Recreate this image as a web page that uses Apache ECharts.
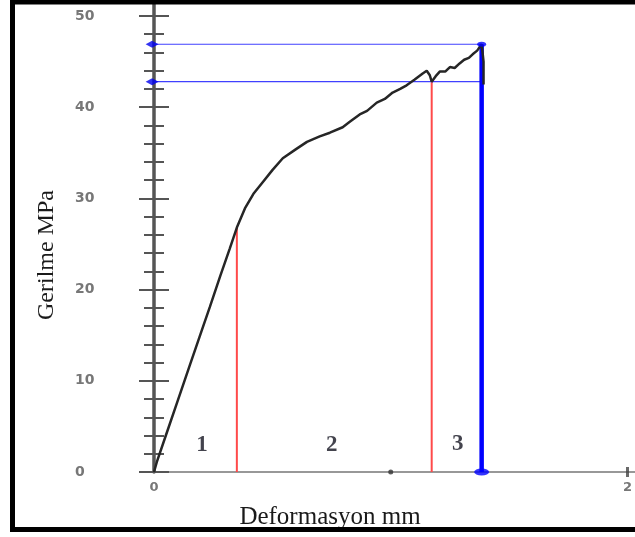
<!DOCTYPE html>
<html>
<head>
<meta charset="utf-8">
<script src="https://cdn.jsdelivr.net/npm/echarts@6/dist/echarts.min.js"></script>
<style>
html,body{margin:0;padding:0;background:#fff;}
#chart{width:635px;height:537px;}
</style>
</head>
<body>
<div id="chart"></div>
<script>
// ---- data ----
const strain = [0, 0.012, 0.05, 0.10, 0.15, 0.20, 0.236, 0.28, 0.32, 0.35, 0.384, 0.42, 0.46, 0.50, 0.544, 0.60, 0.646, 0.70, 0.743, 0.797, 0.827, 0.869, 0.90, 0.941, 0.975, 1.008, 1.04, 1.067, 1.10, 1.135, 1.152, 1.165, 1.173, 1.19, 1.207, 1.23, 1.25, 1.27, 1.291, 1.31, 1.33, 1.346, 1.365, 1.384, 1.392, 1.392];
const stress = [0, 1.1, 4.0, 7.8, 11.6, 15.4, 18.1, 21.5, 24.5, 26.8, 28.9, 30.5, 31.8, 33.1, 34.4, 35.4, 36.2, 36.8, 37.2, 37.8, 38.4, 39.2, 39.6, 40.5, 40.9, 41.6, 42.0, 42.4, 43.0, 43.7, 44.0, 43.5, 42.8, 43.4, 43.9, 43.9, 44.4, 44.3, 44.8, 45.2, 45.4, 45.8, 46.2, 46.9, 45.0, 42.5];
const redLineX = [0.35, 1.173];
const redLineTop = [26.8, 42.8];
const blueLevels = [46.9, 42.8];
const breakX = 1.384;
const breakStress = 46.9;
const regionNames = ['1', '2', '3'];
const regionX = [0.203, 0.751, 1.283];
const regionY = [2.96, 2.96, 3.1];
const xTickLabels = [0, 2];
const xAxisTitle = 'Deformasyon mm';
const yAxisTitle = 'Gerilme MPa';

// ---- build ----
const curve = strain.map((x, i) => [x, stress[i]]);
const series = [];
series.push({
  type: 'line', data: curve, symbol: 'none', z: 5,
  lineStyle: {color: '#262626', width: 2.5}
});
redLineX.forEach((x, i) => {
  series.push({
    type: 'line', data: [[x, 0], [x, redLineTop[i]]], symbol: 'none', z: 3,
    lineStyle: {color: '#ff4a4a', width: 2}
  });
});
blueLevels.forEach(v => {
  series.push({
    type: 'line', data: [[0, v], [breakX, v]], symbol: 'none', z: 3,
    lineStyle: {color: '#4040ff', width: 1.2}
  });
  series.push({
    type: 'scatter', data: [[-0.008, v]], symbol: 'diamond', symbolSize: [13, 7], clip: false, z: 6,
    itemStyle: {color: '#0000ee'}
  });
});
series.push({
  type: 'line', data: [[breakX, 0], [breakX, breakStress]], symbol: 'none', z: 4,
  lineStyle: {color: '#0000ff', width: 4.5}
});
series.push({
  type: 'scatter', data: [[breakX, 0]], symbol: 'circle', symbolSize: [15, 7], z: 6,
  itemStyle: {color: '#0000ff'}
});
series.push({
  type: 'scatter', data: [[breakX, breakStress]], symbol: 'circle', symbolSize: [9, 5], z: 6,
  itemStyle: {color: '#0000ff'}
});
series.push({
  type: 'scatter', data: [[1, 0]], symbol: 'circle', symbolSize: 5, z: 6,
  itemStyle: {color: '#333'}
});
series.push({
  type: 'scatter', data: [[2, 0]], symbol: 'rect', symbolSize: [3, 10], z: 6,
  itemStyle: {color: '#444'}
});
series.push({
  type: 'scatter', symbolSize: 0, z: 7,
  data: regionX.map((x, i) => ({value: [x, regionY[i]], name: regionNames[i]})),
  label: {
    show: true, position: 'inside', formatter: p => p.name,
    fontFamily: 'Liberation Serif', fontWeight: 'bold', fontSize: 23, color: '#141420'
  }
});

const yBase = {type: 'value', min: 0, max: 51.5, interval: 10, position: 'left', splitLine: {show: false}};
const option = {
  animation: false,
  backgroundColor: '#fff',
  grid: {left: 154, right: 0, top: 2.3, bottom: 65, containLabel: false},
  xAxis: {
    type: 'value', min: 0, max: 2.03, interval: 1,
    splitLine: {show: false},
    axisLine: {show: true, lineStyle: {color: '#777', width: 1.5}},
    axisTick: {show: false},
    axisLabel: {
      margin: 9, fontFamily: 'DejaVu Sans', fontSize: 13, fontWeight: 'bold', color: '#777', showMaxLabel: false,
      formatter: v => (xTickLabels.indexOf(v) >= 0 ? String(v) : '')
    }
  },
  yAxis: [
    Object.assign({}, yBase, {
      axisLine: {show: true, lineStyle: {color: '#555', width: 3.5}},
      axisTick: {show: false},
      axisLabel: {align: 'left', margin: 79, fontFamily: 'DejaVu Sans', fontSize: 14, fontWeight: 'bold', color: '#777', showMaxLabel: false}
    }),
    Object.assign({}, yBase, {
      offset: -15,
      axisLine: {show: false},
      axisTick: {show: true, length: 30, lineStyle: {color: '#555', width: 2}},
      axisLabel: {show: false}
    }),
    Object.assign({}, yBase, {
      interval: 2, offset: -10,
      axisLine: {show: false},
      axisTick: {show: true, length: 20, lineStyle: {color: '#555', width: 2}},
      axisLabel: {show: false}
    })
  ],
  series: series,
  graphic: [
    {type: 'rect', shape: {x: 12.5, y: 2, width: 700, height: 527.5}, style: {fill: null, stroke: '#000', lineWidth: 5}, z: 100},
    {type: 'text', x: 330, y: 517, style: {text: xAxisTitle, font: '25px "Liberation Serif"', fill: '#1a1a1a', textAlign: 'center', textVerticalAlign: 'middle'}},
    {type: 'text', x: 47, y: 255, rotation: Math.PI / 2, style: {text: yAxisTitle, font: '24px "Liberation Serif"', fill: '#1a1a1a', textAlign: 'center', textVerticalAlign: 'middle'}}
  ]
};
const chart = echarts.init(document.getElementById('chart'), null, {renderer: 'canvas'});
chart.setOption(option);
</script>
</body>
</html>
